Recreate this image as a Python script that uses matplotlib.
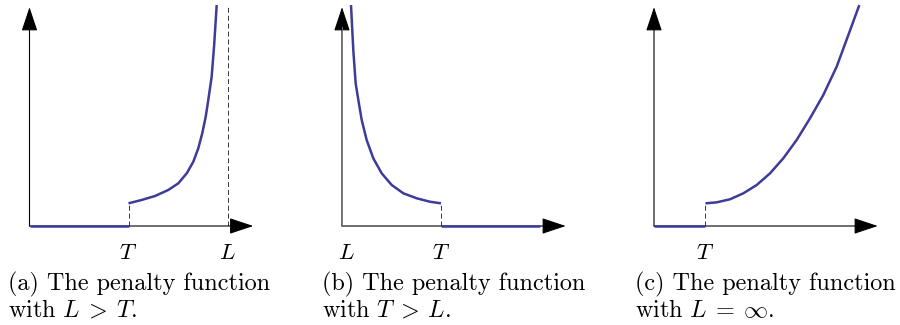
import matplotlib
matplotlib.use("Agg")
import matplotlib.pyplot as plt
from matplotlib.transforms import blended_transform_factory

plt.rcParams['mathtext.fontset'] = 'cm'
plt.rcParams['lines.scale_dashes'] = False

# data (units: T = 1 in panels a and b)
T_a, L_a = 1.0, 2.0
curve_a_x = [1.0, 1.133, 1.268, 1.402, 1.503, 1.588, 1.655, 1.705, 1.745,
             1.780, 1.806, 1.840, 1.864, 1.891]
curve_a_y = [0.229, 0.263, 0.303, 0.364, 0.431, 0.532, 0.650, 0.785, 0.936,
             1.104, 1.273, 1.508, 1.811, 2.232]

T_b, L_b = 1.0, 0.0
flat_b_end = 2.0
curve_b_x = [0.091, 0.114, 0.138, 0.165, 0.199, 0.249, 0.316, 0.401, 0.502,
             0.620, 0.754, 0.889, 1.0]
curve_b_y = [2.232, 1.778, 1.441, 1.273, 1.071, 0.869, 0.684, 0.532, 0.414,
             0.330, 0.280, 0.245, 0.229]

T_c = 0.52
curve_c_x = [0.52, 0.633, 0.768, 0.902, 1.037, 1.172, 1.306, 1.441, 1.576,
             1.710, 1.845, 1.963, 2.074]
curve_c_y = [0.229, 0.239, 0.270, 0.330, 0.414, 0.532, 0.684, 0.869, 1.088,
             1.323, 1.609, 1.929, 2.232]

captions = [("(a) The penalty function", "with $L\\:>\\:T$."),
            ("(b) The penalty function", "with $T\\:>\\:L$."),
            ("(c) The penalty function", "with $L\\:=\\:\\infty$.")]

blue = '#3c3c9a'
W, H = 900, 325
scale = 99.0  # pixels per data unit
origins = [29.5, 342, 654]
caption_x = [8, 322, 635]
x_tip, y_tip = 2.26, 2.21

fig = plt.figure(figsize=(9, 3.25), dpi=100)
axes = []
for ox in origins:
    ax = fig.add_axes([ox / W, 99 / H, 240 / W, 221 / H])
    ax.set_xlim(0, 240 / scale)
    ax.set_ylim(0, 221 / scale)
    ax.axis('off')
    axes.append(ax)


def draw_axes(ax, ycolor='black'):
    arrow = dict(arrowstyle='-|>,head_length=0.75,head_width=0.25',
                 mutation_scale=20, lw=0.8, shrinkA=0, shrinkB=0, color='black')
    ax.annotate('', xy=(x_tip, 0), xytext=(0, 0),
                arrowprops=arrow, annotation_clip=False)
    ax.annotate('', xy=(0, y_tip), xytext=(0, 0),
                arrowprops=arrow, annotation_clip=False)
    if ycolor != 'black':
        # recolour the shaft only, head stays black
        ax.plot([0, 0], [0, y_tip - 0.2], color=ycolor, lw=1.2,
                solid_capstyle='butt', zorder=3)


def tick_label(ax, x, s):
    tr = blended_transform_factory(ax.transData, fig.transFigure)
    ax.text(x, (H - 259) / H, s, transform=tr, ha='center', va='baseline',
            fontsize=16.5)


curve_kw = dict(color=blue, lw=1.8, solid_capstyle='butt', clip_on=False,
                zorder=4)
dash_kw = dict(color='#333333', lw=0.7, dashes=(3.5, 2.2))

# (a)
ax = axes[0]
draw_axes(ax)
ax.plot([0, T_a], [0, 0], **curve_kw)
ax.plot([T_a, T_a], [0, curve_a_y[0]], **dash_kw)
ax.plot([L_a, L_a], [0, 2.24], **dash_kw)
ax.plot(curve_a_x, curve_a_y, **curve_kw)
tick_label(ax, T_a, '$T$')
tick_label(ax, L_a, '$L$')

# (b)
ax = axes[1]
draw_axes(ax, ycolor='#808080')
ax.plot([T_b, flat_b_end], [0, 0], **curve_kw)
ax.plot([T_b, T_b], [0, curve_b_y[-1]], **dash_kw)
ax.plot(curve_b_x, curve_b_y, **curve_kw)
tick_label(ax, L_b + 0.04, '$L$')
tick_label(ax, T_b, '$T$')

# (c)
ax = axes[2]
draw_axes(ax)
ax.plot([0, T_c], [0, 0], **curve_kw)
ax.plot([T_c, T_c], [0, curve_c_y[0]], **dash_kw)
ax.plot(curve_c_x, curve_c_y, **curve_kw)
tick_label(ax, T_c, '$T$')

for cx, (l1, l2) in zip(caption_x, captions):
    fig.text(cx / W, (H - 290) / H, l1, fontfamily='cmr10', fontsize=17.4,
             ha='left', va='baseline')
    fig.text(cx / W, (H - 317) / H, l2, fontfamily='cmr10', fontsize=17.4,
             ha='left', va='baseline')

fig.savefig('out.png', dpi=100)
